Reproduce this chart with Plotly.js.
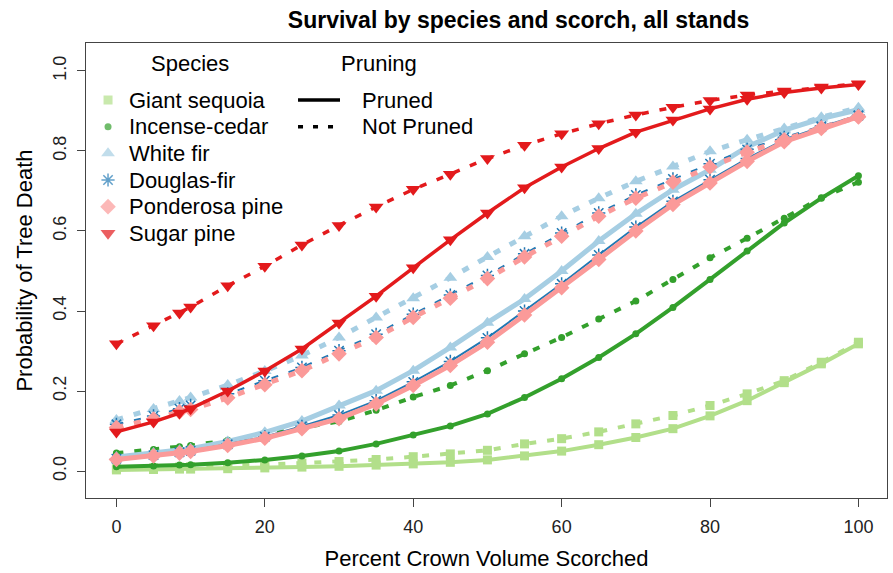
<!DOCTYPE html>
<html>
<head>
<meta charset="utf-8">
<script src="https://cdn.plot.ly/plotly-3.0.1.min.js"></script>
<style>html,body{margin:0;padding:0;background:#fff;}#chart{width:893px;height:573px;}</style>
</head>
<body>
<div id="chart"></div>
<script>
// ---- data ----
const scorch = [0,5,8.5,10,15,20,25,30,35,40,45,50,55,60,65,70,75,80,85,90,95,100];

const species = ["Giant sequoia","Incense-cedar","White fir","Douglas-fir","Ponderosa pine","Sugar pine"];
const pruning = ["Pruned","Not Pruned"];

const sequoiaPruned    = [0.003,0.004,0.005,0.005,0.006,0.008,0.010,0.012,0.015,0.018,0.022,0.028,0.038,0.050,0.066,0.084,0.106,0.138,0.176,0.221,0.268,0.318];
const sequoiaNotPruned = [0.006,0.008,0.010,0.011,0.013,0.016,0.020,0.024,0.029,0.036,0.043,0.052,0.068,0.081,0.098,0.118,0.139,0.164,0.193,0.226,0.272,0.322];
const cedarPruned      = [0.011,0.013,0.015,0.016,0.021,0.028,0.038,0.050,0.068,0.090,0.113,0.143,0.184,0.231,0.284,0.343,0.409,0.479,0.550,0.620,0.682,0.738];
const cedarNotPruned   = [0.045,0.054,0.061,0.064,0.077,0.091,0.108,0.124,0.152,0.185,0.214,0.251,0.293,0.334,0.380,0.425,0.479,0.533,0.582,0.632,0.683,0.722];
const whiteFirPruned   = [0.035,0.045,0.052,0.056,0.074,0.097,0.125,0.164,0.201,0.251,0.309,0.371,0.430,0.500,0.575,0.643,0.703,0.753,0.810,0.852,0.881,0.903];
const whiteFirNotPruned= [0.128,0.155,0.175,0.184,0.215,0.250,0.289,0.334,0.384,0.432,0.483,0.535,0.587,0.637,0.682,0.724,0.761,0.799,0.828,0.856,0.884,0.908];
const douglasPruned    = [0.031,0.040,0.047,0.051,0.067,0.086,0.112,0.140,0.176,0.223,0.274,0.333,0.400,0.468,0.540,0.610,0.674,0.728,0.781,0.828,0.860,0.889];
const douglasNotPruned = [0.117,0.138,0.156,0.164,0.193,0.226,0.259,0.301,0.342,0.392,0.440,0.489,0.543,0.595,0.645,0.690,0.730,0.768,0.804,0.834,0.862,0.888];
const ponderosaPruned  = [0.029,0.038,0.045,0.049,0.064,0.082,0.106,0.131,0.168,0.214,0.264,0.322,0.390,0.458,0.529,0.600,0.666,0.720,0.774,0.823,0.856,0.886];
const ponderosaNotPruned=[0.109,0.130,0.148,0.154,0.183,0.216,0.251,0.293,0.334,0.384,0.432,0.481,0.535,0.587,0.637,0.682,0.722,0.760,0.797,0.828,0.858,0.885];
const sugarPruned      = [0.098,0.123,0.145,0.156,0.200,0.250,0.305,0.370,0.437,0.508,0.578,0.645,0.708,0.760,0.806,0.847,0.877,0.905,0.929,0.946,0.957,0.966];
const sugarNotPruned   = [0.318,0.363,0.395,0.410,0.463,0.512,0.565,0.614,0.660,0.704,0.742,0.781,0.814,0.843,0.868,0.890,0.909,0.926,0.940,0.950,0.960,0.968];

const xTicks = [0,20,40,60,80,100];
const yTicks = [0,0.2,0.4,0.6,0.8,1.0];
const yTickText = ["0.0","0.2","0.4","0.6","0.8","1.0"];

// ---- styles ----
const colors  = ["#B2DF8A","#33A02C","#A6CEE3","#1F78B4","#FB9A99","#E31A1C"];
const symbols = ["square","circle","triangle-up","asterisk-open","diamond","triangle-down"];
const msizes  = [9,7,12,11,12,13];
const lwidths = [4,4,5,2,5,3.5];
const series = [
  [sequoiaPruned, sequoiaNotPruned],
  [cedarPruned, cedarNotPruned],
  [whiteFirPruned, whiteFirNotPruned],
  [douglasPruned, douglasNotPruned],
  [ponderosaPruned, ponderosaNotPruned],
  [sugarPruned, sugarNotPruned]
];
const dashStyle = "7px,11px";
const FONT = "Liberation Sans, Arial, Helvetica, sans-serif";

const traces = [];
series.forEach((pair, i) => {
  pair.forEach((vals, j) => {
    traces.push({
      type: "scatter", mode: "lines+markers",
      x: scorch, y: vals,
      name: species[i] + " – " + pruning[j],
      showlegend: false,
      line: {color: colors[i], width: lwidths[i], dash: j === 0 ? "solid" : dashStyle},
      marker: {symbol: symbols[i], size: msizes[i], color: colors[i],
               line: {color: colors[i], width: symbols[i] === "asterisk-open" ? 1.5 : 0}},
      hoverinfo: "x+y+name"
    });
  });
});

// ---- legend (drawn on an overlay 0..1 axis) ----
const legRowY = [0.8747,0.8161,0.7575,0.6989,0.6403,0.5817];
const legMarkX = 0.0275, legTextX = 0.0512;
traces.push({
  type: "scatter", mode: "markers", xaxis: "x2", yaxis: "y2",
  x: species.map(() => legMarkX), y: legRowY, showlegend: false, hoverinfo: "skip",
  marker: {symbol: symbols, size: msizes, color: colors,
           line: {color: colors, width: symbols.map(s => s === "asterisk-open" ? 1.5 : 0)}}
});
const lineX0 = 0.2647, lineX1 = 0.3171;
pruning.forEach((p, j) => {
  traces.push({
    type: "scatter", mode: "lines", xaxis: "x2", yaxis: "y2",
    x: [lineX0, lineX1], y: [legRowY[j], legRowY[j]], showlegend: false, hoverinfo: "skip",
    line: {color: "#000", width: 3.5, dash: j === 0 ? "solid" : "5px,10px"}
  });
});

const annotations = [];
species.forEach((s, i) => annotations.push({
  xref: "paper", yref: "paper", x: legTextX, y: legRowY[i], text: s, showarrow: false,
  xanchor: "left", yanchor: "middle", font: {family: FONT, size: 22, color: "#000"}
}));
pruning.forEach((p, j) => annotations.push({
  xref: "paper", yref: "paper", x: 0.3421, y: legRowY[j], text: p, showarrow: false,
  xanchor: "left", yanchor: "middle", font: {family: FONT, size: 22, color: "#000"}
}));
annotations.push({xref: "paper", yref: "paper", x: 0.1298, y: 0.9554, text: "Species", showarrow: false,
  xanchor: "center", yanchor: "middle", font: {family: FONT, size: 22, color: "#000"}});
annotations.push({xref: "paper", yref: "paper", x: 0.3658, y: 0.9554, text: "Pruning", showarrow: false,
  xanchor: "center", yanchor: "middle", font: {family: FONT, size: 22, color: "#000"}});

const layout = {
  width: 893, height: 573,
  margin: {l: 86, r: 6, t: 43, b: 75},
  paper_bgcolor: "#fff", plot_bgcolor: "#fff",
  font: {family: FONT, color: "#000"},
  title: {text: "<b>Survival by species and scorch, all stands</b>",
          font: {family: FONT, size: 23, color: "#000"},
          xref: "paper", x: 0.54, xanchor: "center",
          yref: "container", y: 0.966, yanchor: "middle"},
  xaxis: {range: [-4.1, 103.85], tickvals: xTicks, ticks: "outside", ticklen: 8, tickcolor: "#444",
          showline: true, linecolor: "#444", linewidth: 1, mirror: true,
          showgrid: false, zeroline: false, tickfont: {family: FONT, size: 18, color: "#222"},
          ticklabelstandoff: 4,
          title: {text: "Percent Crown Volume Scorched", font: {family: FONT, size: 22, color: "#000"}, standoff: 15}},
  yaxis: {range: [-0.0672, 1.0697], tickvals: yTicks, ticktext: yTickText, ticks: "outside", ticklen: 8,
          tickcolor: "#444", tickangle: -90,
          showline: true, linecolor: "#444", linewidth: 1, mirror: true,
          showgrid: false, zeroline: false, tickfont: {family: FONT, size: 18, color: "#222"},
          ticklabelstandoff: 4,
          title: {text: "Probability of Tree Death", font: {family: FONT, size: 22, color: "#000"}, standoff: 11}},
  xaxis2: {overlaying: "x", range: [0, 1], visible: false, anchor: "y2", fixedrange: true},
  yaxis2: {overlaying: "y", range: [0, 1], visible: false, anchor: "x2", fixedrange: true},
  annotations: annotations,
  showlegend: false
};

Plotly.newPlot("chart", traces, layout, {displayModeBar: false, responsive: false});
</script>
</body>
</html>
